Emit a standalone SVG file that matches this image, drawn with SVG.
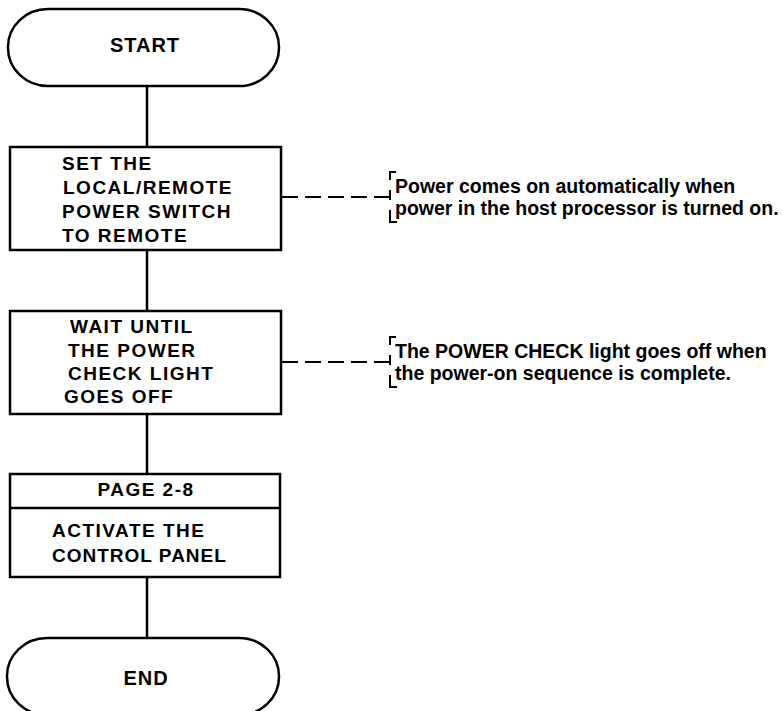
<svg xmlns="http://www.w3.org/2000/svg" width="783" height="711" viewBox="0 0 783 711">
<style>
.shape{fill:#fff;stroke:#000;stroke-width:2.5}
.line{fill:none;stroke:#000;stroke-width:2.5}
.dash{fill:none;stroke:#000;stroke-width:2;stroke-dasharray:16 7}
.brk{fill:none;stroke:#000;stroke-width:2}
.t{font-family:"Liberation Sans",Arial,sans-serif;font-weight:bold;font-size:19px;letter-spacing:1.5px;fill:#000}
.c{text-anchor:middle}
.n{font-family:"Liberation Sans",Arial,sans-serif;font-weight:bold;font-size:19.5px;fill:#000}
</style>
<rect width="783" height="711" fill="#fff"/>
<g id="connectors">
<line class="line" x1="147" y1="86" x2="147" y2="147"/>
<line class="line" x1="147" y1="250" x2="147" y2="311"/>
<line class="line" x1="147" y1="414" x2="147" y2="474"/>
<line class="line" x1="147" y1="577" x2="147" y2="638"/>
<line class="dash" x1="282" y1="197" x2="389" y2="197"/>
<line class="dash" x1="282" y1="362" x2="389" y2="362"/>
</g>
<g id="start">
<rect class="shape" x="8" y="9" width="271" height="77" rx="40" ry="38"/>
<text class="t c" x="145" y="52" style="font-size:20px;letter-spacing:1px">START</text>
</g>
<g id="set-switch">
<rect class="shape" x="10" y="147" width="271" height="103"/>
<text class="t" x="62" y="170">SET THE</text>
<text class="t" x="63" y="194">LOCAL/REMOTE</text>
<text class="t" x="62" y="218">POWER SWITCH</text>
<text class="t" x="62" y="242">TO REMOTE</text>
</g>
<g id="wait">
<rect class="shape" x="10" y="311" width="271" height="103"/>
<text class="t" x="70" y="333">WAIT UNTIL</text>
<text class="t" x="68" y="357">THE POWER</text>
<text class="t" x="68" y="380">CHECK LIGHT</text>
<text class="t" x="64" y="403">GOES OFF</text>
</g>
<g id="activate">
<rect class="shape" x="10" y="474" width="270" height="103"/>
<line class="line" x1="10" y1="508" x2="280" y2="508"/>
<text class="t c" x="146" y="496">PAGE 2-8</text>
<text class="t" x="52" y="537">ACTIVATE THE</text>
<text class="t" x="52" y="562" style="letter-spacing:1px">CONTROL PANEL</text>
</g>
<g id="end">
<rect class="shape" x="7" y="638" width="272" height="77" rx="40" ry="38"/>
<text class="t c" x="146" y="685" style="font-size:20px;letter-spacing:1px">END</text>
</g>
<g id="note-power">
<path class="brk" d="M396 172 H390 V180 M390 190 V200 M390 210 V222 H397"/>
<text class="n" x="395" y="193">Power comes on automatically when</text>
<text class="n" x="395" y="215">power in the host processor is turned on.</text>
</g>
<g id="note-check">
<path class="brk" d="M396 337 H390 V345 M390 355 V365 M390 375 V387 H397"/>
<text class="n" x="395" y="358">The POWER CHECK light goes off when</text>
<text class="n" x="395" y="380">the power-on sequence is complete.</text>
</g>
</svg>
